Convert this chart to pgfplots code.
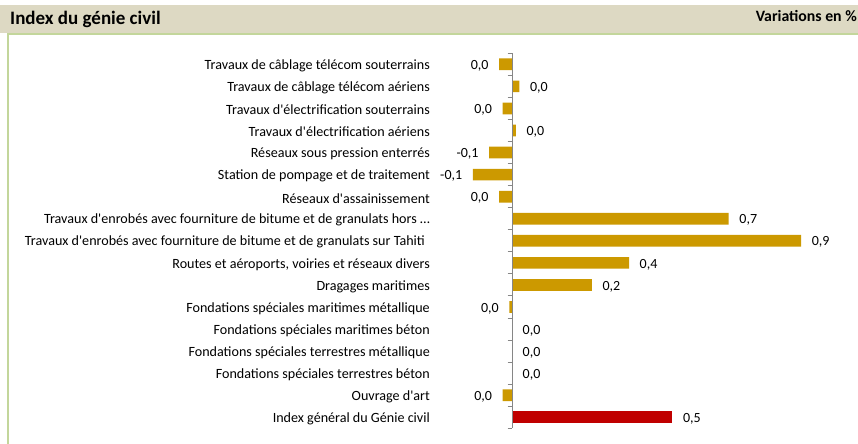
\documentclass[border=0pt]{standalone}
\usepackage{pgfplots}
\pgfplotsset{compat=1.18}
\usepackage{pgfplotstable}
\usepackage{fontspec}
\setmainfont{Carlito}
\definecolor{gold}{RGB}{204,153,0}
\definecolor{idxred}{RGB}{192,0,0}
\definecolor{hdr}{RGB}{221,217,195}
\definecolor{frame}{RGB}{195,214,155}
\definecolor{axgray}{RGB}{134,134,134}
\newcommand\q{\textquotesingle}

\pgfplotstableread{
x y label
-0.040 1 0,0
-0.029 3 0,0
-0.071 5 -0,1
-0.122 6 -0,1
-0.040 7 0,0
-0.008 12 0,0
-0.029 16 0,0
}\negdata

\pgfplotstableread{
x y label
0.023 2 0,0
0.012 4 0,0
0.676 8 0,7
0.902 9 0,9
0.365 10 0,4
0.249 11 0,2
0 13 0,0
0 14 0,0
0 15 0,0
}\posdata

\pgfplotstableread{
x y label
0.500 17 0,5
}\idxdata

\begin{document}
\begin{tikzpicture}
\fill[white] (0,0) rectangle (858bp,-444bp);
\fill[hdr] (0,-5bp) rectangle (858bp,-32.5bp);
\draw[frame, line width=2bp] (7.5bp,-444bp) -- (7.5bp,-34bp) -- (858bp,-34bp);
\node[anchor=base west, inner sep=0pt, font=\bfseries\fontsize{19bp}{22bp}\selectfont] at (10bp,-24.5bp) {Index du génie civil};
\node[anchor=base east, inner sep=0pt, font=\bfseries\fontsize{15.8bp}{18bp}\selectfont] at (857bp,-21.5bp) {Variations en \%};

\begin{axis}[
  at={(430bp,-428.3bp)}, anchor=south west,
  scale only axis, width=402.6bp, height=375bp,
  xmin=-0.2558, xmax=1.0, ymin=0.5, ymax=17.5, y dir=reverse,
  axis x line=none, axis y line*=left,
  y axis line style={draw=none},
  xtick=\empty,
  ytick={1,...,17},
  yticklabels={
    {Travaux de câblage télécom souterrains},
    {Travaux de câblage télécom aériens},
    {Travaux d\q{}électrification souterrains},
    {Travaux d\q{}électrification aériens},
    {Réseaux sous pression enterrés},
    {Station de pompage et de traitement},
    {Réseaux d\q{}assainissement},
    {Travaux d\q{}enrobés avec fourniture de bitume et de granulats hors …},
    {Travaux d\q{}enrobés avec fourniture de bitume et de granulats sur Tahiti\hspace*{5bp}},
    {Routes et aéroports, voiries et réseaux divers},
    {Dragages maritimes},
    {Fondations spéciales maritimes métallique},
    {Fondations spéciales maritimes béton},
    {Fondations spéciales terrestres métallique},
    {Fondations spéciales terrestres béton},
    {Ouvrage d\q{}art},
    {Index général du Génie civil}},
  major tick length=0pt,
  yticklabel style={inner sep=0pt, anchor=east, yshift=-1.5bp, text=black, font=\fontsize{14.1bp}{16bp}\selectfont},
  xbar, bar width=11.7bp, bar shift=0pt,
  nodes near coords, point meta=explicit symbolic,
  nodes near coords style={inner sep=0pt, yshift=-1.5bp, text=black, font=\fontsize{14bp}{16bp}\selectfont},
  clip=false,
]
\addplot[fill=gold, draw=none, every node near coord/.append style={anchor=east, xshift=-10.5bp}]
  table[x=x, y=y, meta=label] {\negdata};
\addplot[fill=gold, draw=none, every node near coord/.append style={anchor=west, xshift=10.5bp}]
  table[x=x, y=y, meta=label] {\posdata};
\addplot[fill=idxred, draw=none, every node near coord/.append style={anchor=west, xshift=10.5bp}]
  table[x=x, y=y, meta=label] {\idxdata};
\end{axis}

\begin{axis}[
  at={(512bp,-428.3bp)}, anchor=south west,
  scale only axis, width=100bp, height=375bp,
  xmin=0, xmax=1, ymin=0.5, ymax=17.5, y dir=reverse,
  axis x line=none, axis y line*=left,
  y axis line style={draw=axgray, line width=1bp},
  xtick=\empty,
  ytick={0.5,1.5,...,17.5},
  yticklabel={\phantom{0}},
  tick align=outside, major tick length=4.5bp,
  every tick/.style={draw=axgray, line width=1bp},
]
\end{axis}
\pgfresetboundingbox
\path[use as bounding box] (0,0) rectangle (858bp,-444bp);
\end{tikzpicture}
\end{document}
